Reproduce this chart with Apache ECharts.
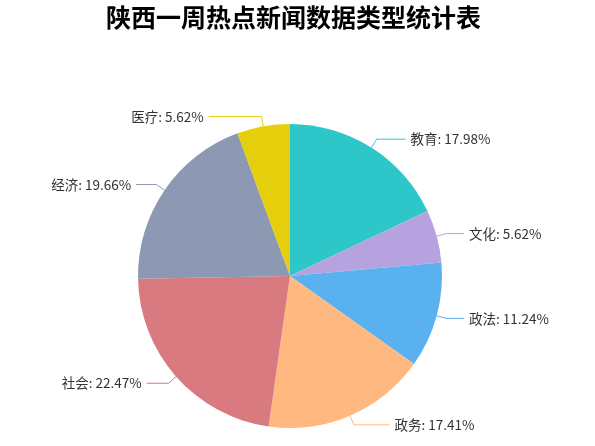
<!DOCTYPE html>
<html><head><meta charset="utf-8">
<script src="https://cdn.jsdelivr.net/npm/echarts@6/dist/echarts.min.js"></script>
<style>html,body{margin:0;padding:0;background:#fff}#c{width:595px;height:446px}</style>
</head><body><div id="c"></div>
<script>
const titleText = '陕西一周热点新闻数据类型统计表';
const categories = ['教育','文化','政法','政务','社会','经济','医疗'];
const values = [32,10,20,31,40,35,10];
const colors = ['#2ec7c9','#b6a2de','#5ab1ef','#ffb980','#d87a80','#8d98b3','#e5cf0d'];

const CX = 290, CY = 276, R = 152, LEN = 10, LEN2 = 17;
const chart = echarts.init(document.getElementById('c'));
chart.setOption({
  animation:false,
  color: colors,
  title:{text:titleText,left:101,top:0,textStyle:{fontSize:25,fontWeight:'bold',color:'#000',fontFamily:'Noto Sans CJK SC'}},
  series:[{
    type:'pie',
    center:[CX,CY],
    radius:R,
    startAngle:90,
    avoidLabelOverlap:false,
    data: categories.map((c,i)=>({name:c,value:values[i]})),
    label:{formatter:'{b}: {d}%',fontSize:13.5,color:'#333',fontFamily:'Noto Sans CJK SC'},
    labelLine:{length:LEN,length2:LEN2,smooth:false},
    labelLayout:function(p){
      const pts = p.labelLinePoints;
      if(!pts) return {};
      const p0 = pts[0], p1 = pts[1];
      const dir = p1[0] >= CX ? 1 : -1;
      const dy = Math.abs(p1[1]-CY);
      const RR = R + LEN + LEN2;
      const dx = Math.sqrt(Math.max(RR*RR - dy*dy, 0));
      const x2 = CX + dir*dx;
      return {
        x: x2 + dir*5,
        y: p1[1],
        align: dir > 0 ? 'left' : 'right',
        verticalAlign: 'middle',
        labelLinePoints: [p0, p1, [x2, p1[1]]]
      };
    }
  }]
});
</script></body></html>
